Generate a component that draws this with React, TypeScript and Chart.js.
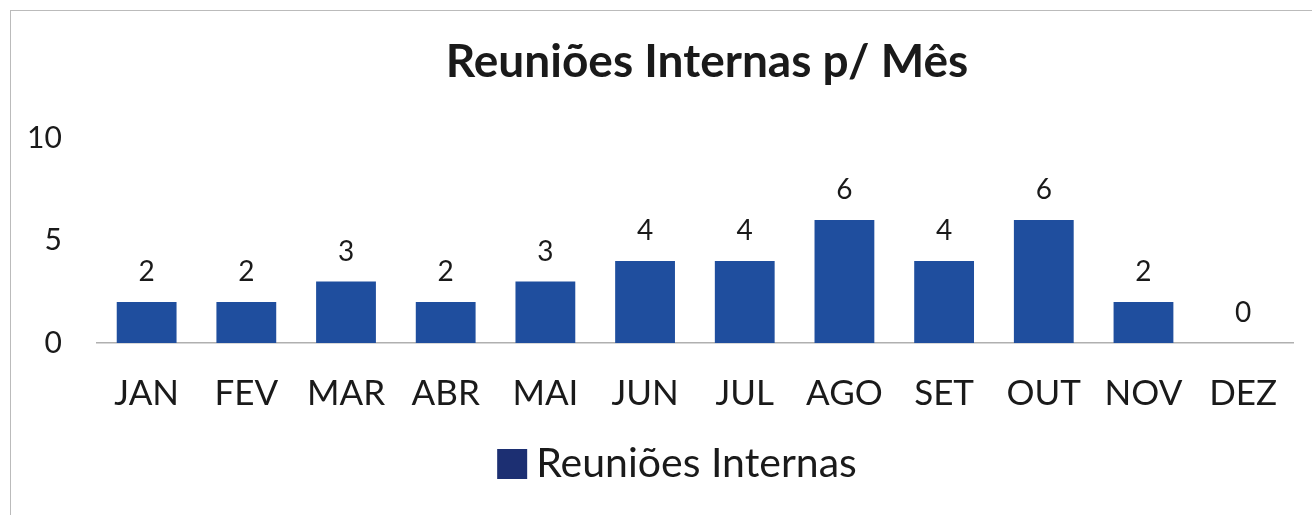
import React, { useEffect, useRef } from "react";
import { Chart, registerables } from "chart.js";

Chart.register(...registerables);

const months = ["JAN", "FEV", "MAR", "ABR", "MAI", "JUN", "JUL", "AGO", "SET", "OUT", "NOV", "DEZ"];
const meetings = [2, 2, 3, 2, 3, 4, 4, 6, 4, 6, 2, 0];
const seriesName = "Reuniões Internas";
const chartTitle = "Reuniões Internas p/ Mês";

const FONT = "Lato, 'Open Sans', sans-serif";

const valueLabels = {
  id: "valueLabels",
  afterDatasetsDraw(chart: any) {
    const ctx = chart.ctx;
    const meta = chart.getDatasetMeta(0);
    ctx.save();
    ctx.font = `28px ${FONT}`;
    ctx.fillStyle = "#1a1a1a";
    ctx.textAlign = "center";
    ctx.textBaseline = "middle";
    meta.data.forEach((bar: any, i: number) => {
      ctx.fillText(String(chart.data.datasets[0].data[i]), bar.x, bar.y - 30);
    });
    ctx.restore();
  },
};

// Title and legend drawn at the positions they hold in the reference
const titleAndLegend = {
  id: "titleAndLegend",
  afterDraw(chart: any) {
    const ctx = chart.ctx;
    ctx.save();
    ctx.fillStyle = "#1a1a1a";
    ctx.textAlign = "center";
    ctx.textBaseline = "middle";
    ctx.font = `bold 46px ${FONT}`;
    ctx.fillText(chartTitle, 707, 62);

    ctx.font = `41px ${FONT}`;
    const tw = ctx.measureText(seriesName).width;
    const box = 30;
    const gap = 9;
    const total = box + gap + tw;
    const cx = 677;
    const cy = 464;
    const x0 = cx - total / 2;
    ctx.fillStyle = "#1c2f72";
    ctx.fillRect(x0, cy - box / 2, box, box);
    ctx.fillStyle = "#1a1a1a";
    ctx.textAlign = "left";
    ctx.fillText(seriesName, x0 + box + gap, cy);
    ctx.restore();
  },
};

export default function App() {
  const ref = useRef<HTMLCanvasElement>(null);
  useEffect(() => {
    const chart = new Chart(ref.current!, {
      type: "bar",
      data: {
        labels: months,
        datasets: [
          {
            label: seriesName,
            data: meetings,
            backgroundColor: "#1f4e9e",
            barPercentage: 0.6,
            categoryPercentage: 1,
          },
        ],
      },
      options: {
        animation: false,
        responsive: true,
        maintainAspectRatio: false,
        layout: { padding: { left: 0, right: 19, top: 138, bottom: 78 } },
        plugins: {
          title: { display: false },
          legend: { display: false },
          tooltip: { enabled: false },
        },
        scales: {
          x: {
            grid: { display: false },
            border: { display: true, color: "#b0b0b0", width: 1.5 },
            ticks: { color: "#1a1a1a", font: { family: FONT, size: 35 }, padding: 22 },
          },
          y: {
            min: 0,
            max: 10,
            grid: { display: false },
            border: { display: false },
            ticks: { stepSize: 5, color: "#1a1a1a", font: { family: FONT, size: 30 }, padding: 27 },
          },
        },
      },
      plugins: [valueLabels, titleAndLegend],
    });
    return () => chart.destroy();
  }, []);
  return (
    <div style={{ position: "fixed", left: 0, top: 0, width: 1312, height: 515, background: "#fff" }}>
      <div style={{ position: "absolute", left: 10, top: 10, right: 0, bottom: 0, borderLeft: "1px solid #bbb", borderTop: "1px solid #bbb" }} />
      <canvas ref={ref} />
    </div>
  );
}
